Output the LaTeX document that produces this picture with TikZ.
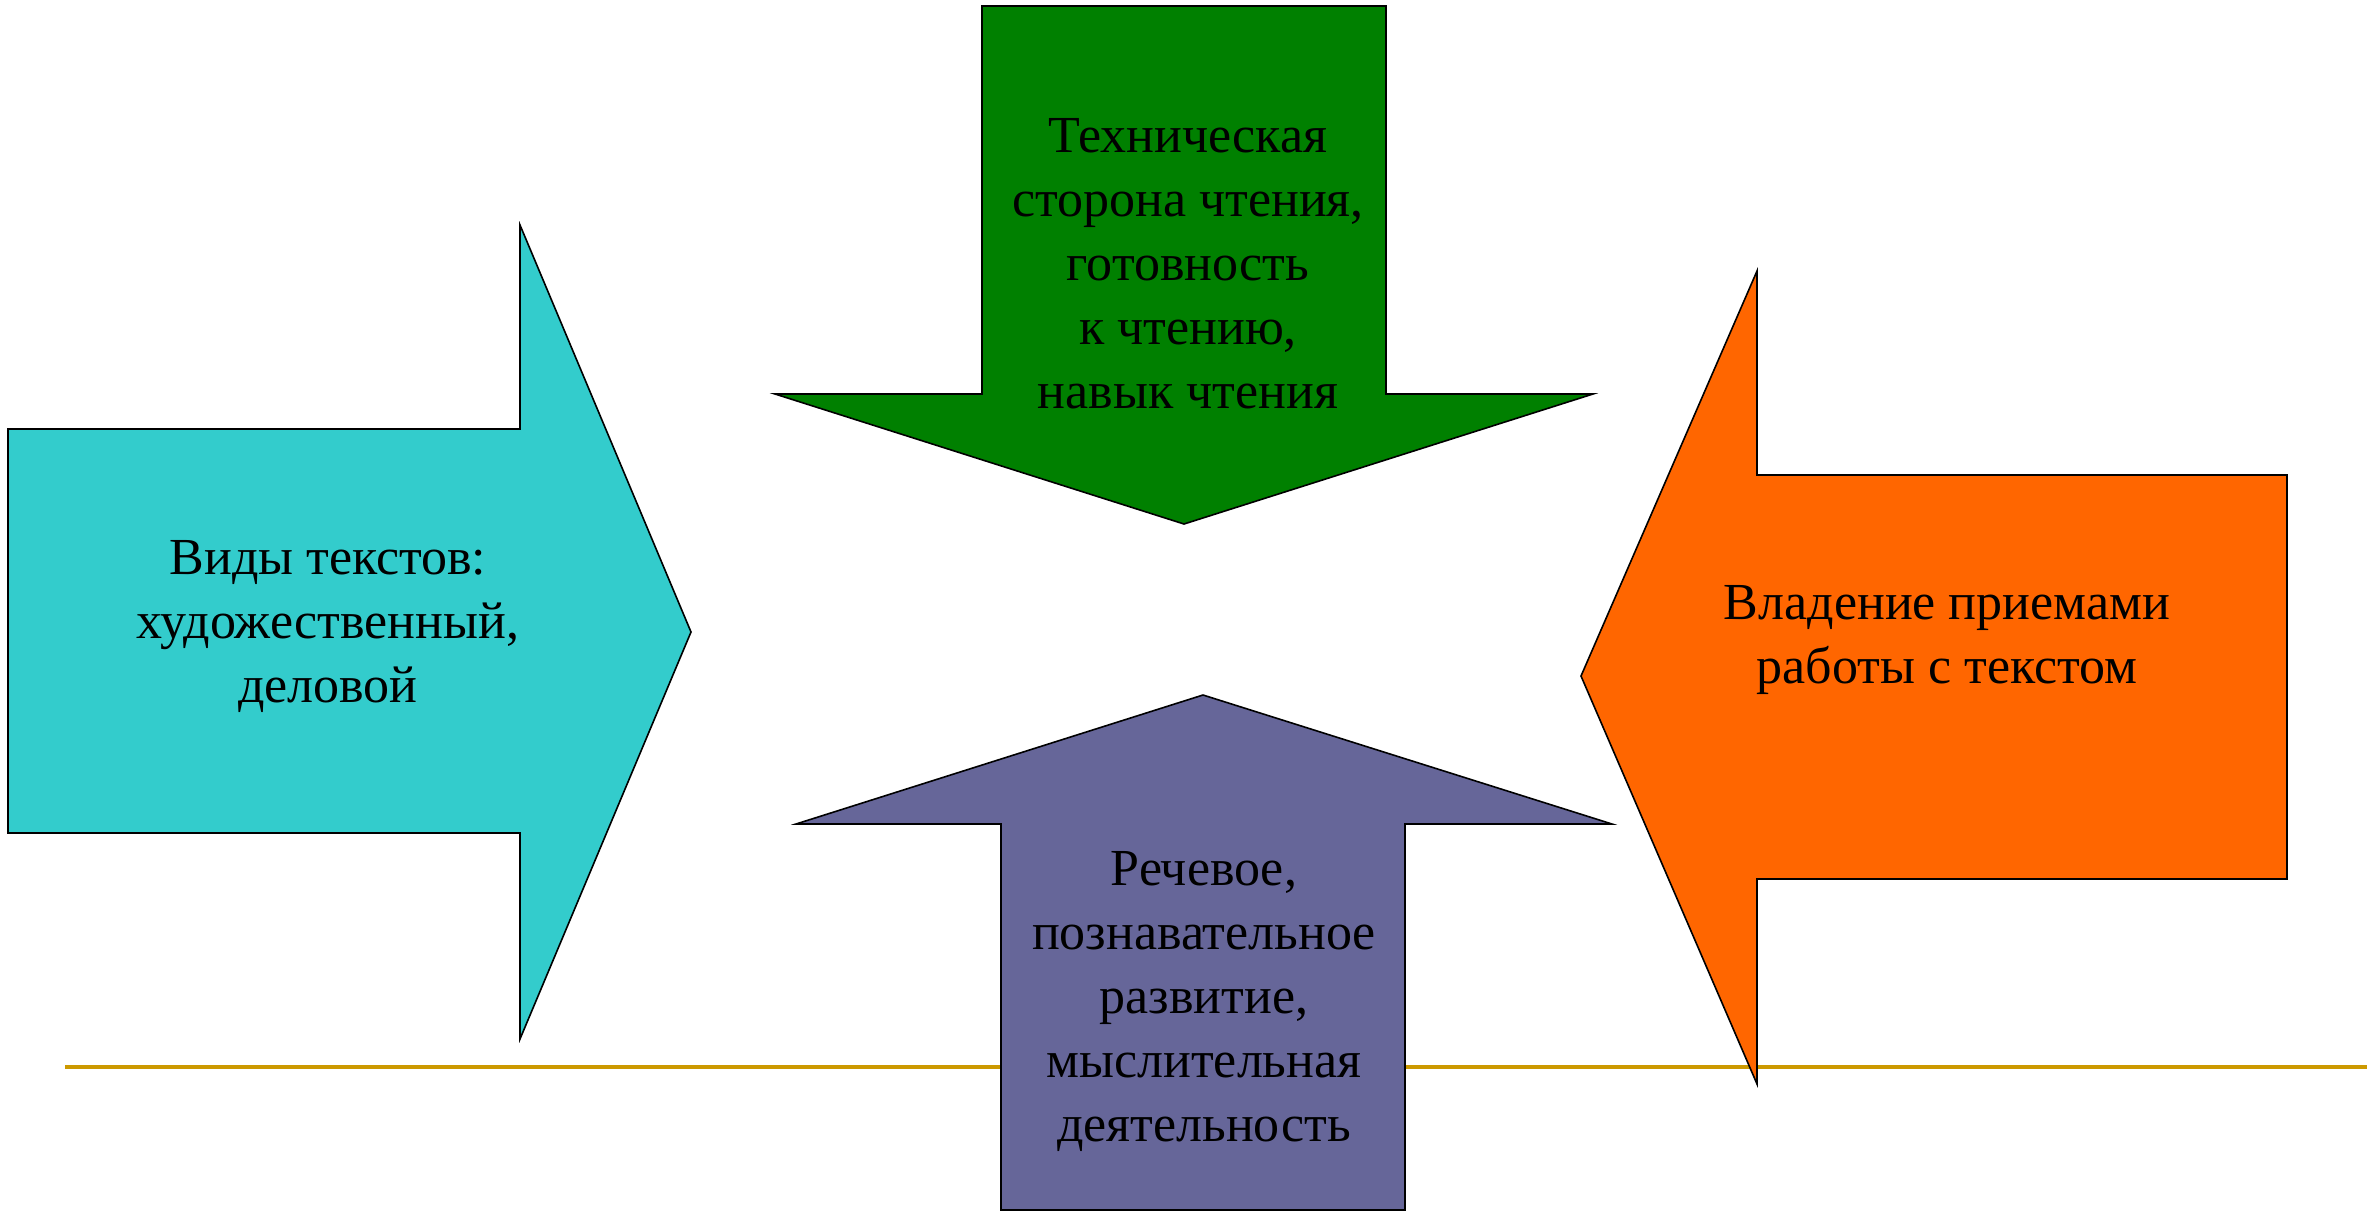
\documentclass[tikz,border=0pt]{standalone}
\usepackage{fontspec}
\setmainfont{Liberation Serif}
\definecolor{cyanFill}{HTML}{33CCCC}
\definecolor{greenFill}{HTML}{008000}
\definecolor{orangeFill}{HTML}{FF6600}
\definecolor{purpleFill}{HTML}{666699}
\definecolor{lineGold}{HTML}{CC9900}
\begin{document}
\begin{tikzpicture}[x=0.5pt,y=-0.5pt,
  arrowshape/.style={draw=black,line width=0.8pt,line join=miter},
  lbl/.style={align=center,font=\fontsize{26}{31.9}\selectfont,anchor=base,inner sep=0pt,text=black}]
\useasboundingbox (0,0) rectangle (2379,1212);
% gold rule
\coordinate (lineL) at (65,1067);
\coordinate (lineR) at (2367,1067);
\draw[line width=1.75pt,color=lineGold] (lineL) -- (lineR);
% cyan right arrow
\draw[arrowshape,fill=cyanFill] (8,429) -- (520,429) -- (520,225) -- (691,632) -- (520,1039) -- (520,833) -- (8,833) -- cycle;
% green down arrow
\draw[arrowshape,fill=greenFill] (982,6) -- (1386,6) -- (1386,394) -- (1593,394) -- (1184,524) -- (775,394) -- (982,394) -- cycle;
% orange left arrow
\draw[arrowshape,fill=orangeFill] (2287,475) -- (1757,475) -- (1757,271) -- (1581,676) -- (1757,1084) -- (1757,879) -- (2287,879) -- cycle;
% purple up arrow
\draw[arrowshape,fill=purpleFill] (1001,1210) -- (1001,824) -- (796,824) -- (1203,695) -- (1612,824) -- (1405,824) -- (1405,1210) -- cycle;
% texts (anchor base = baseline of last line)
\node[lbl] (cyanText) at (328,702) {Виды текстов:\\художественный,\\деловой};
\node[lbl] (greenText) at (1188,408) {Техническая\\сторона чтения,\\готовность\\к чтению,\\навык чтения};
\node[lbl] (orangeText) at (1947,683) {Владение приемами\\работы с текстом};
\node[lbl] (purpleText) at (1204,1141) {Речевое,\\познавательное\\развитие,\\мыслительная\\деятельность};
\end{tikzpicture}
\end{document}
